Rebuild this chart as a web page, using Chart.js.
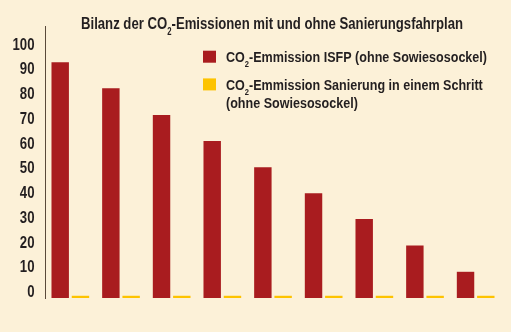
<!DOCTYPE html>
<html>
<head>
<meta charset="utf-8">
<script src="https://cdn.jsdelivr.net/npm/chart.js@4"></script>
<style>
  html, body { margin: 0; padding: 0; background: #fcf1d8; }
  #wrap { width: 511px; height: 332px; }
</style>
</head>
<body>
<div id="wrap"><canvas id="co2Chart"></canvas></div>
<script>
const chartTitle = 'Bilanz der CO₂-Emissionen mit und ohne Sanierungsfahrplan';
const categories = ['1', '2', '3', '4', '5', '6', '7', '8', '9'];
const seriesLabels = [
    'CO₂-Emmission ISFP (ohne Sowiesosockel)',
    'CO₂-Emmission Sanierung in einem Schritt\n(ohne Sowiesosockel)'
];
const isfpValues = [95.3, 84.8, 74.0, 63.5, 52.9, 42.4, 31.9, 21.2, 10.6];
const einSchrittValues = [0.9, 0.9, 0.9, 0.9, 0.9, 0.9, 0.9, 0.9, 0.9];
const yTicks = [0, 10, 20, 30, 40, 50, 60, 70, 80, 90, 100];

const colors = {
    bg: '#fcf1d8',
    red: '#a91c1f',
    yellow: '#fdc300',
    text: '#231f20',
    axis: '#5a4a3a'
};
const fontFamily = "'Liberation Sans', Arial, sans-serif";

// the original uses a condensed face; squeeze a normal one horizontally
function richWidth(ctx, text, size) {
    const parts = text.split('₂');
    let w = 0;
    parts.forEach((p, i) => {
        ctx.font = 'bold ' + size + 'px ' + fontFamily;
        w += ctx.measureText(p).width;
        if (i < parts.length - 1) {
            ctx.font = 'bold ' + Math.round(size * 0.58) + 'px ' + fontFamily;
            w += ctx.measureText('2').width;
        }
    });
    return w;
}

function drawRich(ctx, text, x, y, size, sx) {
    ctx.save();
    ctx.translate(x, y);
    ctx.scale(sx, 1);
    const parts = text.split('₂');
    let cx = 0;
    parts.forEach((p, i) => {
        ctx.font = 'bold ' + size + 'px ' + fontFamily;
        ctx.fillText(p, cx, 0);
        cx += ctx.measureText(p).width;
        if (i < parts.length - 1) {
            ctx.font = 'bold ' + Math.round(size * 0.58) + 'px ' + fontFamily;
            ctx.fillText('2', cx, size * 0.33);
            cx += ctx.measureText('2').width;
        }
    });
    ctx.restore();
}

const decorPlugin = {
    id: 'decor',
    beforeDraw(chart) {
        const ctx = chart.ctx;
        ctx.save();
        ctx.fillStyle = colors.bg;
        ctx.fillRect(0, 0, chart.width, chart.height);
        ctx.restore();
    },
    afterDraw(chart) {
        const ctx = chart.ctx;
        const yScale = chart.scales.y;
        ctx.save();
        ctx.fillStyle = colors.text;
        ctx.textBaseline = 'alphabetic';
        ctx.textAlign = 'left';

        // title
        const tSize = 17;
        const tsx = 382 / richWidth(ctx, chartTitle, tSize);
        drawRich(ctx, chartTitle, 81, 29.3, tSize, tsx);

        // y tick labels, right aligned to the axis
        const kSize = 16;
        ctx.font = 'bold ' + kSize + 'px ' + fontFamily;
        const ksx = 22 / ctx.measureText('100').width;
        yScale.ticks.forEach(t => {
            const label = String(t.value);
            ctx.font = 'bold ' + kSize + 'px ' + fontFamily;
            const w = ctx.measureText(label).width * ksx;
            drawRich(ctx, label, 34.5 - w, yScale.getPixelForValue(t.value) - 1, kSize, ksx);
        });

        // legend
        const lSize = 15;
        const lsx = 261 / richWidth(ctx, chart.data.datasets[0].label, lSize);
        let y = 62.3;
        chart.data.datasets.forEach((ds) => {
            ctx.fillStyle = ds.backgroundColor;
            ctx.fillRect(203, y - 11.6, 13, 12);
            ctx.fillStyle = colors.text;
            ds.label.split('\n').forEach((line, j) => {
                drawRich(ctx, line, 226, y + j * 18.3, lSize, lsx);
            });
            y += 27.7;
        });
        ctx.restore();
    }
};

new Chart(document.getElementById('co2Chart'), {
    type: 'bar',
    data: {
        labels: categories,
        datasets: [{
            label: seriesLabels[0],
            data: isfpValues,
            backgroundColor: colors.red,
            categoryPercentage: 0.8,
            barPercentage: 0.86
        }, {
            label: seriesLabels[1],
            data: einSchrittValues,
            backgroundColor: colors.yellow,
            categoryPercentage: 0.8,
            barPercentage: 0.86
        }]
    },
    options: {
        responsive: true,
        maintainAspectRatio: false,
        animation: false,
        layout: {
            padding: { top: 26, right: 10, bottom: 34, left: 0 }
        },
        plugins: {
            legend: { display: false },
            title: { display: false },
            tooltip: { enabled: false }
        },
        scales: {
            x: {
                display: false
            },
            y: {
                min: 0,
                max: 110,
                afterFit(scale) { scale.width = 45; },
                afterBuildTicks(scale) {
                    scale.ticks = yTicks.map(v => ({ value: v }));
                },
                border: { display: true, color: colors.axis, width: 1 },
                grid: { display: false, drawTicks: false },
                ticks: { display: false }
            }
        }
    },
    plugins: [decorPlugin]
});
</script>
</body>
</html>
